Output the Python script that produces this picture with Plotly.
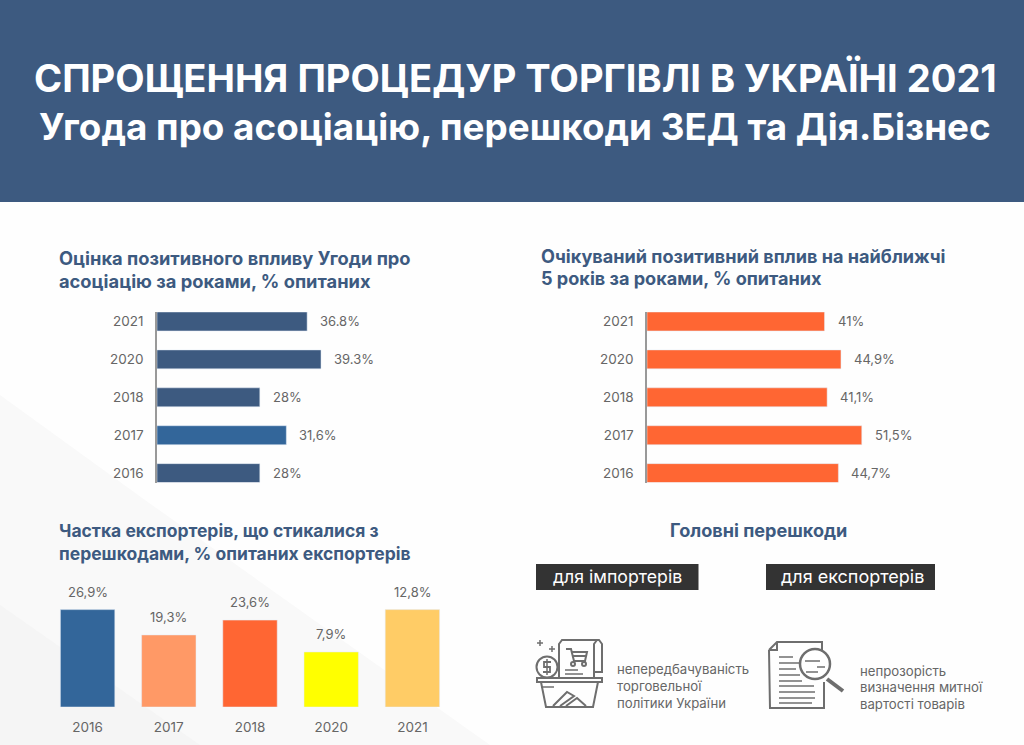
import plotly.graph_objects as go

W, H = 1024, 745

# top charts: bars as drawn in the picture, labels as printed on it
years_top = ['2021', '2020', '2018', '2017', '2016']
assoc_bars = [36.8, 40.2, 25.2, 31.7, 25.2]
assoc_labels = ['36.8%', '39.3%', '28%', '31,6%', '28%']
assoc_colors = ['#3d5a80', '#3d5a80', '#3d5a80', '#33669a', '#3d5a80']
expect_bars = [41.0, 44.8, 41.6, 49.6, 44.2]
expect_labels = ['41%', '44,9%', '41,1%', '51,5%', '44,7%']

# bottom chart
years_bottom = ['2016', '2017', '2018', '2020', '2021']
exporters_bars = [26.9, 19.9, 24.0, 15.2, 26.9]
exporters_labels = ['26,9%', '19,3%', '23,6%', '7,9%', '12,8%']
exporters_colors = ['#33669a', '#ff9966', '#ff6633', '#ffff00', '#ffcc66']

FONT = 'Inter'
BLUE = '#3d5a80'
GREY = '#666666'
ICON = '#6e6e6e'


def px(x):
    return x / W


def py(y):
    return 1 - y / H


def line(points, color=ICON, width=2, closed=False, fill=None):
    d = 'M' + ' L'.join(f'{px(x):.5f},{py(y):.5f}' for x, y in points)
    if closed:
        d += ' Z'
    return dict(type='path', xref='paper', yref='paper', path=d, layer='above',
                fillcolor=fill if fill else 'rgba(0,0,0,0)',
                line=dict(color=color, width=width))


def circle(cx, cy, r, color=ICON, width=2, fill='#ffffff'):
    return dict(type='circle', xref='paper', yref='paper', layer='above',
                x0=px(cx - r), x1=px(cx + r), y0=py(cy + r), y1=py(cy - r),
                fillcolor=fill, line=dict(color=color, width=width))


def label(text, x, y, size, color=GREY, anchor='left', bold=False):
    return dict(text=text, x=px(x), y=py(y), xref='paper', yref='paper', xanchor=anchor,
                yanchor='middle', showarrow=False, align=anchor,
                font=dict(family=FONT, size=size, color=color, weight=700 if bold else 400))


def bar_label(xref, yref, x, y, text, **kw):
    return dict(text=text, x=x, y=y, xref=xref, yref=yref, showarrow=False,
                font=dict(family=FONT, size=13, color=GREY), **kw)


fig = go.Figure()
fig.add_trace(go.Bar(x=assoc_bars, y=years_top, orientation='h', width=0.5,
                     marker_color=assoc_colors, xaxis='x', yaxis='y'))
fig.add_trace(go.Bar(x=expect_bars, y=years_top, orientation='h', width=0.5,
                     marker_color='#ff6633', xaxis='x2', yaxis='y2'))
fig.add_trace(go.Bar(x=years_bottom, y=exporters_bars, width=0.67,
                     marker_color=exporters_colors, xaxis='x3', yaxis='y3'))

tick_font = dict(family=FONT, size=13.5, color=GREY)
hbar_y = dict(type='category', categoryorder='array', categoryarray=years_top[::-1],
              range=[-0.25, 4.25], domain=[py(482.6), py(312)], showgrid=False, automargin=False,
              showline=True, linecolor='#999999', linewidth=1.5, ticks='outside',
              ticklen=9, tickcolor='rgba(0,0,0,0)', tickfont=tick_font)
hbar_x = dict(showgrid=False, zeroline=False, showticklabels=False, showline=False, automargin=False)

# category axes take the position of the category in annotations, not its name
annotations = []
for i, (v, t) in enumerate(zip(assoc_bars, assoc_labels)):
    annotations.append(bar_label('x', 'y', v, len(years_top) - 1 - i, t, xanchor='left', xshift=11))
for i, (v, t) in enumerate(zip(expect_bars, expect_labels)):
    annotations.append(bar_label('x2', 'y2', v, len(years_top) - 1 - i, t, xanchor='left', xshift=11))
for i, (v, t) in enumerate(zip(exporters_bars, exporters_labels)):
    annotations.append(bar_label('x3', 'y3', i, v, t, yanchor='bottom', yshift=8))

annotations += [
    label('СПРОЩЕННЯ ПРОЦЕДУР ТОРГІВЛІ В УКРАЇНІ 2021', 515, 78, 38.1, '#ffffff', 'center', True),
    label('Угода про асоціацію, перешкоди ЗЕД та Дія.Бізнес', 515, 126, 36.8, '#ffffff', 'center', True),
    label('Оцінка позитивного впливу Угоди про', 57, 258, 18.3, BLUE, bold=True),
    label('асоціацію за роками, % опитаних', 57, 281, 18.3, BLUE, bold=True),
    label('Очікуваний позитивний вплив на найближчі', 539, 256, 18.1, BLUE, bold=True),
    label('5 років за роками, % опитаних', 539, 278, 18.1, BLUE, bold=True),
    label('Частка експортерів, що стикалися з', 57, 530, 17.5, BLUE, bold=True),
    label('перешкодами, % опитаних експортерів', 57, 553, 17.5, BLUE, bold=True),
    label('Головні перешкоди', 758, 530, 18.1, BLUE, 'center', True),
    label('для імпортерів', 617, 576, 17.7, '#ffffff', 'center'),
    label('для експортерів', 852, 576, 18, '#ffffff', 'center'),
    label('непередбачуваність', 615, 669, 13.2),
    label('торговельної', 615, 686, 13.2),
    label('політики України', 615, 703, 13.2),
    label('непрозорість', 858, 671, 13.2),
    label('визначення митної', 858, 687, 13.2),
    label('вартості товарів', 858, 704, 13.2),
]

shapes = [
    # pale background wedges
    line([(0, 395), (145, 500), (490, 745), (0, 745)], color='rgba(0,0,0,0)', width=0, closed=True, fill='#f9f9f9'),
    line([(0, 605), (200, 745), (0, 745)], color='rgba(0,0,0,0)', width=0, closed=True, fill='#f5f5f5'),
    # header band
    dict(type='rect', xref='paper', yref='paper', x0=0, x1=1, y0=py(202), y1=1, layer='below',
         fillcolor=BLUE, line=dict(width=0)),
    # dark tags
    dict(type='rect', xref='paper', yref='paper', x0=px(536), x1=px(698.5), y0=py(590), y1=py(564),
         fillcolor='#333333', line=dict(width=0), layer='below'),
    dict(type='rect', xref='paper', yref='paper', x0=px(766), x1=px(935), y0=py(590), y1=py(564),
         fillcolor='#333333', line=dict(width=0), layer='below'),
]
for s in shapes[:2]:
    s['layer'] = 'below'

# basket icon
shapes += [
    line([(559, 678), (559, 644), (562, 640), (599, 640), (602, 644), (602, 672), (594, 672)]),
    line([(594, 678), (594, 644), (597, 640)]),
    line([(537, 678), (602, 678), (602, 682), (537, 682)], closed=True),
    line([(541, 682), (546, 707), (593, 707), (598, 682)]),
    line([(566, 649), (571, 649), (574, 661), (585, 661), (587, 652), (572, 652)]),
    line([(572, 656), (586, 656)]),
    circle(573, 664, 2), circle(584, 664, 2),
    line([(565, 670), (578, 670)], width=1.5), line([(565, 674), (583, 674)], width=1.5),
    circle(547, 667, 10.5),
    line([(551, 662), (544, 662), (544, 667), (550, 667), (550, 672), (543, 672)], width=1.8),
    line([(547, 659), (547, 675)], width=1.5),
    line([(553, 706), (567, 692), (574, 696), (560, 706)]),
    line([(566, 706), (577, 698), (586, 706)]),
    line([(541, 687), (554, 687)], width=1.5),
    line([(537, 643), (543, 643)], width=1.5), line([(540, 640), (540, 646)], width=1.5),
    line([(549, 649), (555, 649)], width=1.5), line([(552, 646), (552, 652)], width=1.5),
]
# document and magnifier icon
shapes += [
    line([(769, 650), (777, 642), (822, 642), (822, 650)]),
    line([(769, 650), (777, 650), (777, 642)]),
    line([(769, 650), (770, 708), (824, 708), (824, 682)]),
]
for y0, x0, x1 in [(657, 779, 793), (663, 779, 800), (669, 779, 796), (675, 779, 800),
                   (681, 779, 802), (686, 779, 814), (692, 779, 815), (698, 779, 815), (703, 779, 812)]:
    shapes.append(line([(x0, y0), (x1, y0)], width=1.5))
shapes += [
    line([(827, 679), (843, 691)], width=4),
    circle(815, 664, 15, fill='#ffffff', width=2.5),
    line([(805, 661), (820, 661)], width=1.5),
    line([(817, 667), (825, 667)], width=1.5),
    line([(806, 672), (818, 672)], width=1.5),
]

fig.update_layout(
    width=W, height=H, margin=dict(l=0, r=0, t=0, b=0), showlegend=False,
    paper_bgcolor='#fefefe', plot_bgcolor='rgba(0,0,0,0)',
    font=dict(family=FONT, color=GREY),
    xaxis=dict(hbar_x, domain=[px(157), px(500)], range=[0, 343 / 4.08]),
    yaxis=dict(hbar_y, anchor='x'),
    xaxis2=dict(hbar_x, domain=[px(647), px(1000)], range=[0, 353 / 4.33], anchor='y2'),
    yaxis2=dict(hbar_y, anchor='x2'),
    xaxis3=dict(domain=[px(47), px(453)], type='category', categoryorder='array', automargin=False,
                categoryarray=years_bottom, showgrid=False, showline=False, ticks='outside',
                ticklen=8, tickcolor='rgba(0,0,0,0)', tickfont=tick_font, anchor='y3'),
    yaxis3=dict(domain=[py(707), py(570)], range=[0, 137 / 3.62], showgrid=False, zeroline=False,
                showticklabels=False, anchor='x3', automargin=False),
    annotations=annotations, shapes=shapes,
)

fig.write_html('out.html', config=dict(displayModeBar=False),
               post_script="document.body.style.margin='0';document.body.style.overflow='hidden';")
